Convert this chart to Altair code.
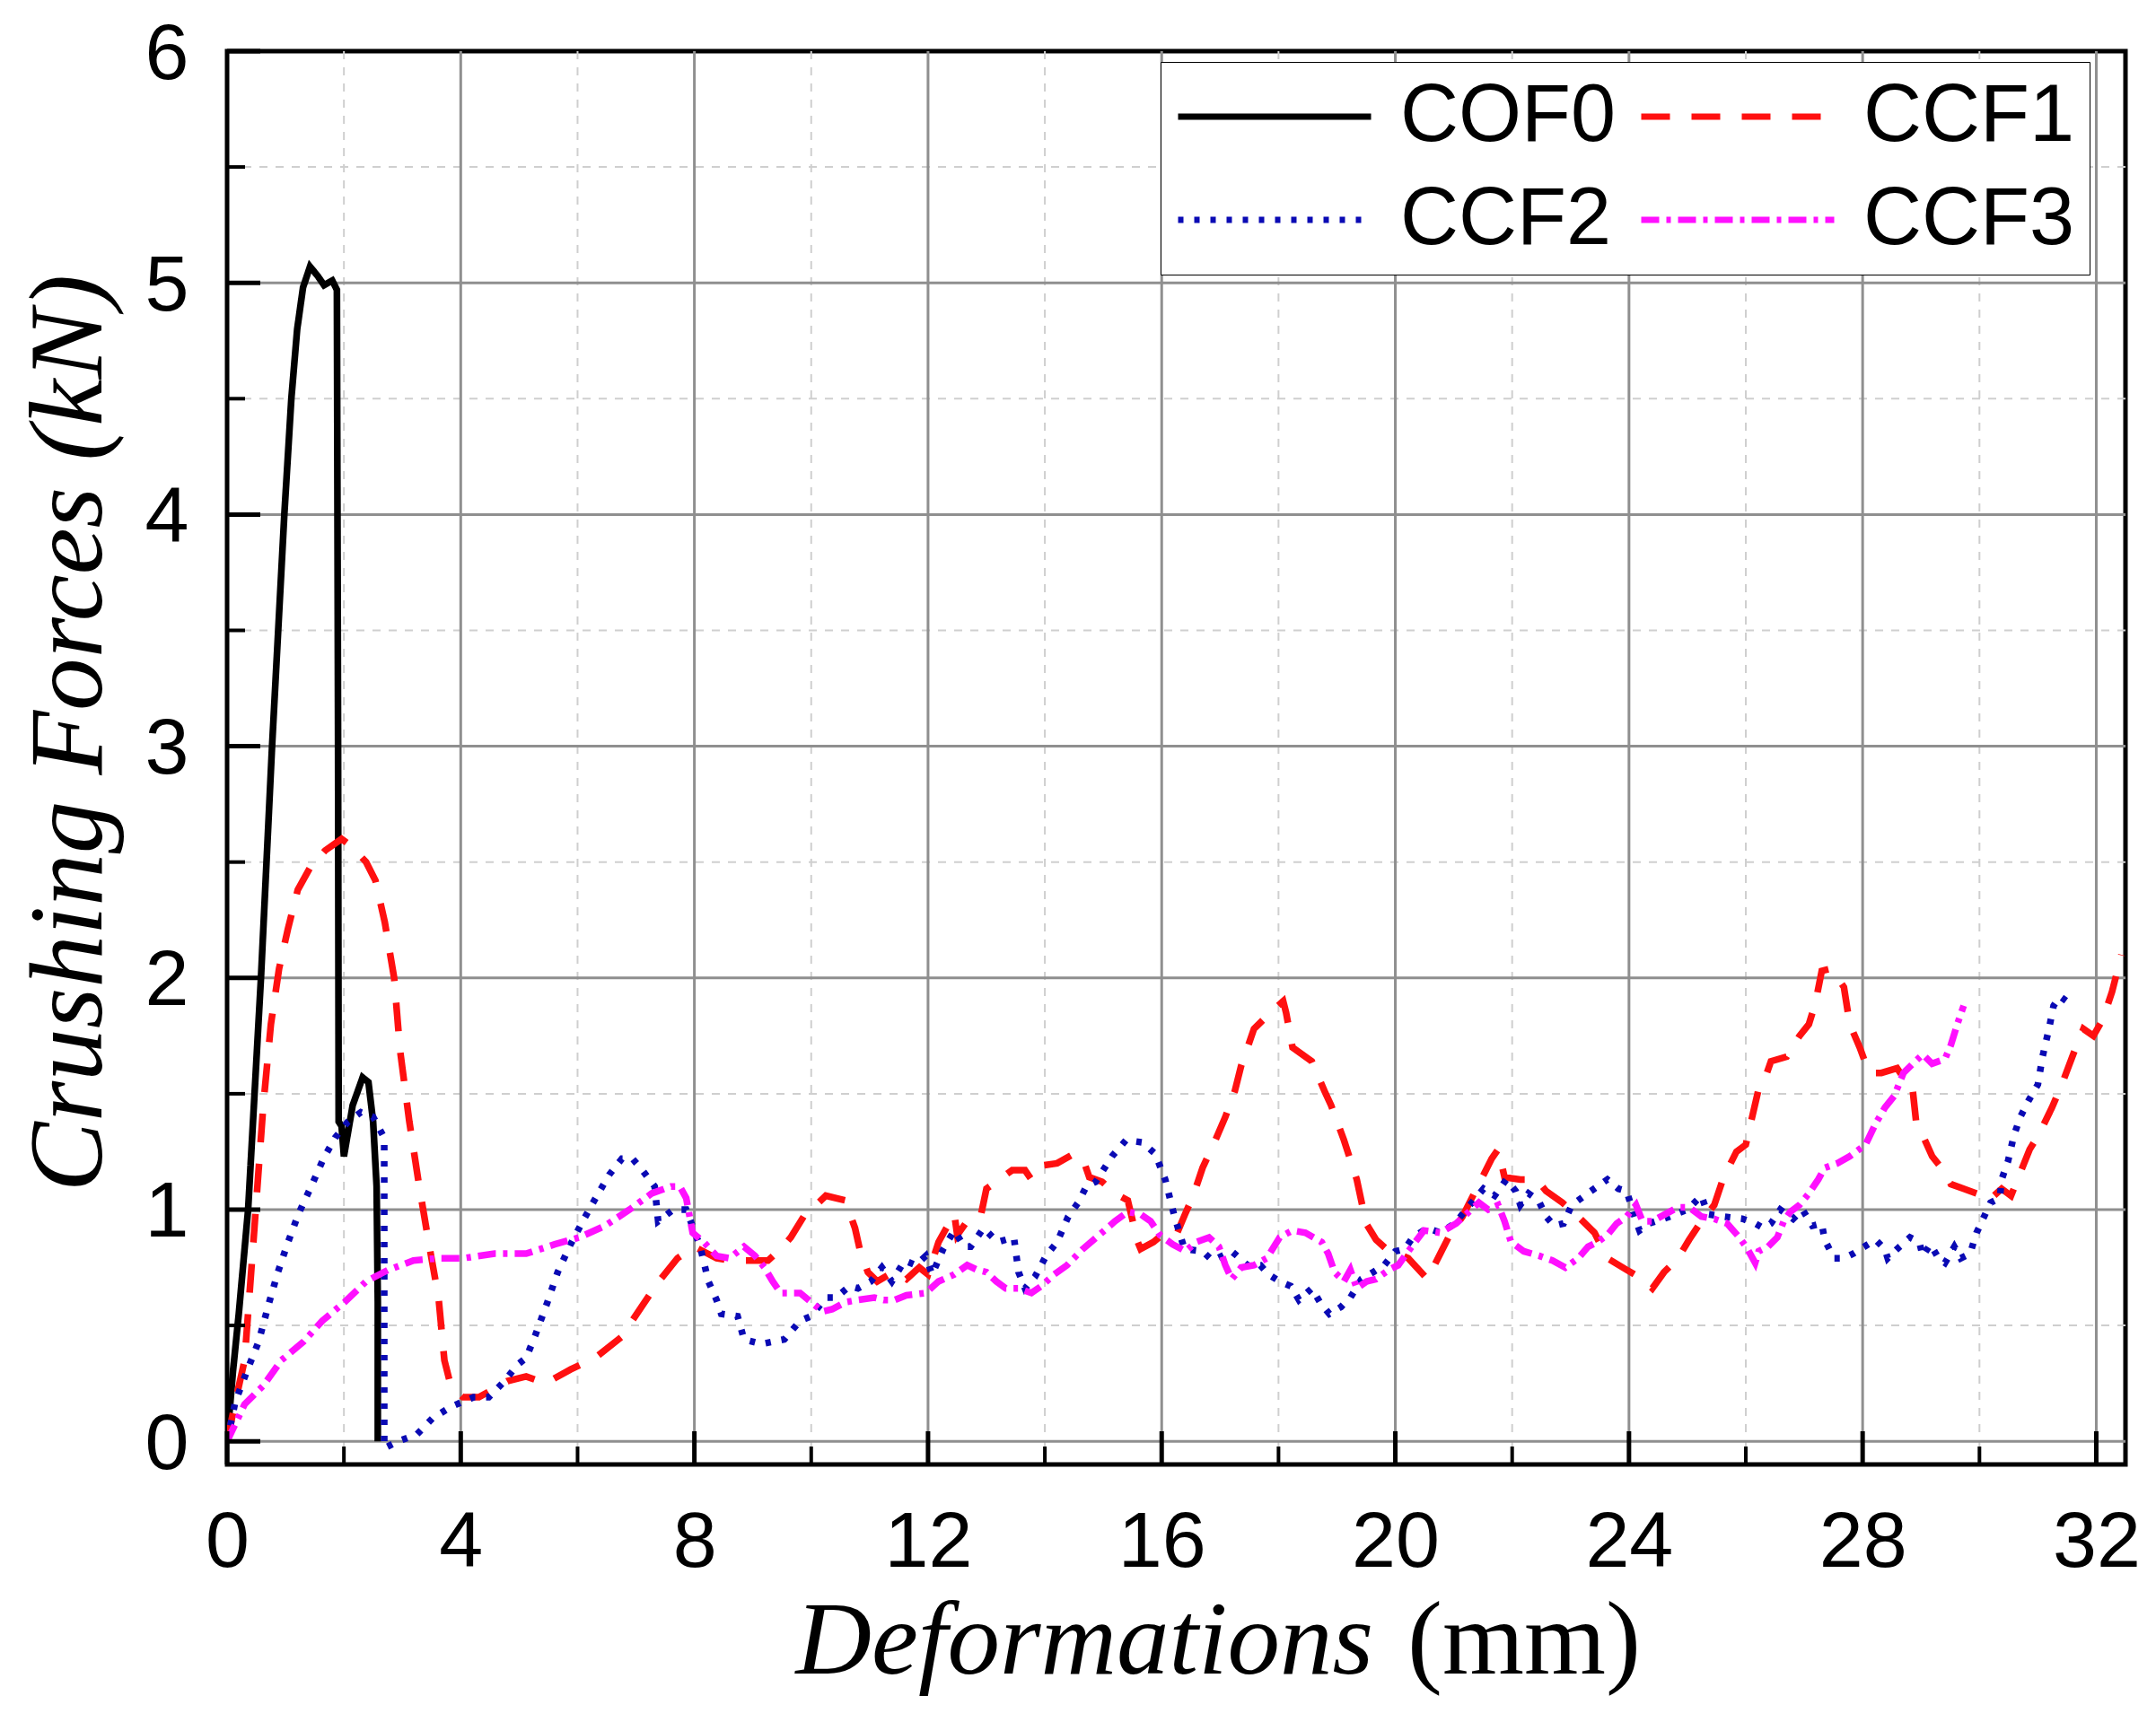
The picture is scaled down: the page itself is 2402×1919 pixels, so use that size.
import pandas as pd
import altair as alt

# curves: (deformation mm, force kN)
cof0 = [(0, 0), (0.1, 0.3), (0.2, 0.55), (0.36, 1.0), (0.58, 2.0), (0.77, 3.0), (0.98, 4.0),
        (1.1, 4.5), (1.2, 4.8), (1.3, 4.98), (1.42, 5.07), (1.55, 5.03), (1.66, 4.99), (1.8, 5.01),
        (1.88, 4.97), (1.9, 3.0), (1.91, 1.38), (1.96, 1.36), (2.0, 1.23), (2.15, 1.45), (2.32, 1.57),
        (2.42, 1.55), (2.5, 1.38), (2.56, 1.1), (2.58, 0.6), (2.58, 0.0)]

ccf1 = [(0, 0), (0.15, 0.18), (0.3, 0.35), (0.45, 0.86), (0.62, 1.45), (0.75, 1.8), (0.89, 2.04),
        (1.04, 2.21), (1.21, 2.38), (1.43, 2.48), (1.68, 2.55), (1.96, 2.6), (2.12, 2.57), (2.38, 2.5),
        (2.54, 2.42), (2.7, 2.24), (2.86, 2.0), (2.96, 1.69), (3.12, 1.38), (3.29, 1.1), (3.45, 0.86),
        (3.62, 0.62), (3.72, 0.35), (3.83, 0.24), (4.04, 0.19), (4.31, 0.19), (4.8, 0.26), (5.12, 0.28),
        (5.45, 0.25), (5.88, 0.31), (6.3, 0.36), (6.75, 0.45), (7.12, 0.59), (7.39, 0.69), (7.71, 0.79),
        (8.0, 0.84), (8.38, 0.79), (8.65, 0.78), (8.98, 0.78), (9.26, 0.78), (9.48, 0.83), (9.65, 0.88),
        (9.87, 0.97), (10.0, 1.0), (10.25, 1.06), (10.58, 1.04), (10.75, 0.92), (10.83, 0.83),
        (10.97, 0.73), (11.13, 0.69), (11.4, 0.73), (11.63, 0.7), (11.85, 0.75), (12.0, 0.72),
        (12.18, 0.86), (12.29, 0.91), (12.45, 0.98), (12.5, 0.89), (12.67, 0.95), (12.9, 0.97),
        (13.0, 1.09), (13.22, 1.13), (13.44, 1.17), (13.66, 1.17), (13.77, 1.13), (13.94, 1.19),
        (14.21, 1.2), (14.49, 1.24), (14.65, 1.22), (14.76, 1.14), (14.98, 1.12), (15.2, 1.07),
        (15.42, 1.04), (15.59, 0.86), (15.64, 0.83), (15.86, 0.86), (16.0, 0.89), (16.25, 0.89),
        (16.4, 0.98), (16.54, 1.06), (16.7, 1.18), (16.92, 1.3), (17.09, 1.4), (17.25, 1.51),
        (17.36, 1.62), (17.58, 1.78), (17.86, 1.85), (18.08, 1.9), (18.13, 1.85), (18.24, 1.7),
        (18.57, 1.64), (18.79, 1.51), (18.9, 1.45), (19.12, 1.3), (19.34, 1.13), (19.5, 0.94),
        (19.67, 0.87), (19.89, 0.82), (20.05, 0.81), (20.22, 0.79), (20.55, 0.7), (20.77, 0.81),
        (20.93, 0.89), (21.15, 0.97), (21.43, 1.11), (21.65, 1.22), (21.76, 1.26), (21.87, 1.14),
        (22.14, 1.13), (22.42, 1.13), (22.58, 1.08), (22.86, 1.03), (23.13, 0.97), (23.41, 0.9),
        (23.63, 0.79), (23.96, 0.74), (24.23, 0.7), (24.4, 0.66), (24.6, 0.73), (24.84, 0.79),
        (25.03, 0.87), (25.24, 0.95), (25.46, 1.02), (25.62, 1.14), (25.84, 1.25), (26.0, 1.28),
        (26.1, 1.39), (26.21, 1.51), (26.32, 1.56), (26.43, 1.64), (26.7, 1.66), (26.92, 1.75),
        (27.08, 1.8), (27.19, 1.89), (27.3, 2.03), (27.46, 2.04), (27.68, 1.96), (27.78, 1.8),
        (27.95, 1.7), (28.11, 1.59), (28.32, 1.59), (28.59, 1.61), (28.86, 1.51), (28.92, 1.37),
        (29.03, 1.32), (29.19, 1.23), (29.35, 1.18), (29.51, 1.11), (29.73, 1.09), (29.95, 1.07),
        (30.16, 1.04), (30.38, 1.09), (30.54, 1.06), (30.7, 1.16), (30.86, 1.26), (31.03, 1.33),
        (31.24, 1.44), (31.41, 1.54), (31.62, 1.68), (31.78, 1.78), (31.95, 1.75), (32.11, 1.82),
        (32.27, 1.94), (32.43, 2.1)]

ccf2 = [(0, 0), (0.14, 0.17), (0.35, 0.31), (0.54, 0.43), (0.71, 0.59), (0.87, 0.73), (1.03, 0.85),
        (1.22, 0.98), (1.44, 1.1), (1.65, 1.22), (1.85, 1.31), (2.07, 1.38), (2.29, 1.42), (2.5, 1.4),
        (2.69, 1.31), (2.69, 1.1), (2.69, 0.72), (2.69, 0.31), (2.69, -0.03), (2.93, 0.0), (3.25, 0.03),
        (3.52, 0.1), (3.84, 0.15), (4.22, 0.19), (4.48, 0.19), (4.75, 0.26), (4.97, 0.33), (5.12, 0.36),
        (5.28, 0.46), (5.47, 0.59), (5.66, 0.73), (5.88, 0.85), (6.09, 0.95), (6.31, 1.05), (6.54, 1.15),
        (6.76, 1.22), (6.94, 1.22), (7.11, 1.17), (7.32, 1.1), (7.38, 0.95), (7.64, 1.0), (7.86, 1.0),
        (8.1, 0.84), (8.24, 0.69), (8.38, 0.61), (8.46, 0.55), (8.74, 0.54), (8.85, 0.44), (9.15, 0.42),
        (9.54, 0.44), (9.81, 0.52), (10.0, 0.54), (10.25, 0.62), (10.42, 0.62), (10.66, 0.67),
        (10.8, 0.66), (11.02, 0.69), (11.21, 0.75), (11.38, 0.69), (11.6, 0.78), (11.79, 0.76),
        (11.96, 0.8), (12.07, 0.72), (12.26, 0.83), (12.45, 0.91), (12.62, 0.84), (12.73, 0.84),
        (12.95, 0.92), (13.19, 0.86), (13.47, 0.88), (13.55, 0.73), (13.66, 0.66), (13.83, 0.71),
        (14.02, 0.8), (14.21, 0.86), (14.4, 0.97), (14.57, 1.03), (14.71, 1.1), (14.87, 1.12),
        (15.15, 1.23), (15.39, 1.3), (15.67, 1.29), (15.89, 1.24), (16.06, 1.13), (16.22, 0.97),
        (16.39, 0.83), (16.7, 0.82), (16.87, 0.78), (17.2, 0.82), (17.47, 0.76), (17.69, 0.76),
        (17.83, 0.72), (18.02, 0.69), (18.21, 0.67), (18.35, 0.61), (18.57, 0.66), (18.71, 0.6),
        (18.87, 0.55), (19.07, 0.58), (19.23, 0.62), (19.42, 0.7), (19.62, 0.73), (19.81, 0.76),
        (20.0, 0.82), (20.16, 0.83), (20.3, 0.88), (20.55, 0.92), (20.77, 0.9), (21.02, 0.94),
        (21.21, 1.0), (21.51, 1.09), (21.7, 1.06), (21.9, 1.13), (22.06, 1.08), (22.14, 1.02),
        (22.28, 1.07), (22.45, 1.04), (22.58, 0.97), (22.72, 0.93), (22.88, 0.94), (23.02, 1.02),
        (23.24, 1.06), (23.46, 1.1), (23.63, 1.13), (23.82, 1.09), (23.96, 1.08), (24.12, 0.95),
        (24.18, 0.91), (24.34, 0.94), (24.7, 0.97), (25.0, 1.0), (25.24, 1.06), (25.35, 0.98),
        (25.62, 0.97), (25.95, 0.96), (26.16, 0.94), (26.3, 0.92), (26.43, 0.94), (26.59, 1.0),
        (26.81, 0.96), (26.97, 1.0), (27.14, 0.93), (27.3, 0.94), (27.35, 0.87), (27.51, 0.79),
        (27.68, 0.79), (27.84, 0.81), (28.03, 0.84), (28.22, 0.87), (28.38, 0.83), (28.43, 0.79),
        (28.59, 0.83), (28.81, 0.88), (28.97, 0.86), (29.03, 0.8), (29.16, 0.85), (29.3, 0.79),
        (29.41, 0.77), (29.57, 0.84), (29.68, 0.79), (29.84, 0.81), (29.95, 0.9), (30.08, 0.97),
        (30.19, 1.03), (30.35, 1.05), (30.38, 1.13), (30.49, 1.21), (30.59, 1.32), (30.7, 1.4),
        (30.84, 1.47), (31.0, 1.54), (31.08, 1.66), (31.19, 1.78), (31.27, 1.88), (31.38, 1.92),
        (31.49, 1.9)]

ccf3 = [(0, 0), (0.3, 0.16), (0.62, 0.24), (0.93, 0.35), (1.31, 0.43), (1.63, 0.52), (2.01, 0.6),
        (2.38, 0.69), (2.76, 0.74), (3.19, 0.78), (3.62, 0.79), (4.04, 0.79), (4.58, 0.81), (5.12, 0.81),
        (5.61, 0.85), (6.03, 0.88), (6.47, 0.93), (6.89, 1.0), (7.27, 1.07), (7.6, 1.1), (7.75, 1.1),
        (7.86, 1.05), (7.97, 0.9), (8.16, 0.86), (8.38, 0.8), (8.6, 0.79), (8.85, 0.84), (9.04, 0.8),
        (9.2, 0.75), (9.34, 0.69), (9.48, 0.64), (9.64, 0.64), (9.81, 0.64), (10.0, 0.6), (10.2, 0.56),
        (10.36, 0.57), (10.58, 0.6), (10.8, 0.61), (11.08, 0.62), (11.24, 0.61), (11.43, 0.61),
        (11.63, 0.63), (11.96, 0.64), (12.18, 0.69), (12.45, 0.72), (12.67, 0.76), (12.84, 0.74),
        (13.0, 0.73), (13.17, 0.69), (13.33, 0.66), (13.55, 0.66), (13.77, 0.64), (13.94, 0.67),
        (14.16, 0.72), (14.38, 0.76), (14.65, 0.83), (14.93, 0.89), (15.2, 0.95), (15.42, 0.99),
        (15.64, 0.98), (15.81, 0.95), (15.97, 0.89), (16.19, 0.85), (16.41, 0.82), (16.59, 0.86),
        (16.81, 0.88), (16.98, 0.84), (17.09, 0.76), (17.2, 0.7), (17.36, 0.75), (17.58, 0.76),
        (17.8, 0.79), (18.02, 0.88), (18.24, 0.91), (18.46, 0.9), (18.74, 0.86), (18.85, 0.81),
        (18.96, 0.73), (19.12, 0.69), (19.23, 0.74), (19.34, 0.66), (19.51, 0.69), (19.67, 0.7),
        (19.89, 0.74), (20.05, 0.76), (20.22, 0.82), (20.49, 0.91), (20.77, 0.9), (21.04, 0.94),
        (21.26, 0.99), (21.43, 1.03), (21.59, 1.0), (21.76, 1.02), (21.87, 0.95), (21.98, 0.86),
        (22.2, 0.82), (22.47, 0.8), (22.69, 0.78), (22.91, 0.75), (23.13, 0.79), (23.3, 0.84),
        (23.46, 0.86), (23.63, 0.89), (23.79, 0.94), (23.96, 0.97), (24.12, 1.02), (24.23, 0.95),
        (24.4, 0.95), (24.62, 0.98), (24.84, 1.01), (25.03, 1.01), (25.24, 0.97), (25.46, 0.96),
        (25.68, 0.94), (25.89, 0.88), (26.03, 0.83), (26.16, 0.77), (26.22, 0.82), (26.38, 0.84),
        (26.54, 0.88), (26.65, 0.95), (26.76, 0.99), (26.92, 1.02), (27.08, 1.07), (27.24, 1.13),
        (27.35, 1.18), (27.57, 1.2), (27.78, 1.23), (28.05, 1.28), (28.22, 1.37), (28.38, 1.44),
        (28.54, 1.49), (28.7, 1.59), (28.86, 1.63), (29.03, 1.67), (29.19, 1.63), (29.41, 1.65),
        (29.51, 1.71), (29.62, 1.8), (29.73, 1.88)]

# legend fills column by column, so this order gives COF0 CCF1 / CCF2 CCF3
series_names = ["COF0", "CCF2", "CCF1", "CCF3"]
series_colors = ["#000000", "#0a0ab4", "#ff1010", "#ff10ff"]
series_dashes = [[1, 0], [6, 12], [32, 24], [20, 8, 5, 8]]

x_major = [0, 4, 8, 12, 16, 20, 24, 28, 32]
x_minor = [2, 6, 10, 14, 18, 22, 26, 30]
y_major = [0, 1, 2, 3, 4, 5, 6]
y_minor = [0.5, 1.5, 2.5, 3.5, 4.5, 5.5]

W, H = 2115, 1575

rows = []
for name, pts in zip(["COF0", "CCF1", "CCF2", "CCF3"], [cof0, ccf1, ccf2, ccf3]):
    for i, (d, f) in enumerate(pts):
        rows.append({"series": name, "d": d, "f": f, "i": i})
df = pd.DataFrame(rows)

xs = alt.Scale(domain=[0, 32.5], nice=False, zero=False)
ys = alt.Scale(domain=[-0.1, 6], nice=False, zero=False)

x_axis = alt.Axis(values=x_major, format="d", ticks=False, domain=False, grid=False,
                  labelFont="Liberation Sans", labelFontSize=88, labelColor="black",
                  labelPadding=43, labelFlush=False, labelOverlap=False, title=None)
y_axis = alt.Axis(values=y_major, format="d", ticks=False, domain=False, grid=False,
                  labelFont="Liberation Sans", labelFontSize=88, labelColor="black",
                  labelPadding=43, labelOffset=4, labelFlush=False, labelOverlap=False, title=None)

leg = alt.Legend(title=None, orient="none", legendX=1040, legendY=12, columns=2,
                 symbolType="stroke", symbolSize=46225, symbolStrokeWidth=7, clipHeight=90,
                 labelFont="Liberation Sans", labelFontSize=90, labelColor="black", labelLimit=0,
                 labelOffset=29, columnPadding=24, rowPadding=25, padding=16,
                 strokeColor="black", fillColor="white")

lines = alt.Chart(df).mark_line(strokeWidth=7.5, clip=True).encode(
    x=alt.X("d:Q", scale=xs, axis=x_axis),
    y=alt.Y("f:Q", scale=ys, axis=y_axis),
    color=alt.Color("series:N", scale=alt.Scale(domain=series_names, range=series_colors), legend=leg),
    strokeDash=alt.StrokeDash("series:N", scale=alt.Scale(domain=series_names, range=series_dashes), legend=leg),
    order="i:Q",
)


def vrules(vals, y_top, y_bot, **style):
    return alt.Chart(pd.DataFrame({"v": vals})).mark_rule(**style).encode(
        x=alt.X("v:Q", scale=xs, axis=x_axis), y=alt.value(y_top), y2=alt.value(y_bot))


def hrules(vals, x_left, x_right, **style):
    return alt.Chart(pd.DataFrame({"v": vals})).mark_rule(**style).encode(
        y=alt.Y("v:Q", scale=ys, axis=y_axis), x=alt.value(x_left), x2=alt.value(x_right))


minor_grid = (vrules(x_minor, 0, H, color="#cfcfcf", strokeWidth=2, strokeDash=[9, 9])
              + hrules(y_minor, 0, W, color="#cfcfcf", strokeWidth=2, strokeDash=[9, 9]))
major_grid = (vrules(x_major[1:], 0, H, color="#8f8f8f", strokeWidth=3)
              + hrules(y_major[:-1], 0, W, color="#8f8f8f", strokeWidth=3))
ticks = (vrules(x_major, H, H - 37, color="black", strokeWidth=5)
         + vrules(x_minor, H, H - 20, color="black", strokeWidth=4)
         + hrules(y_major, 0, 37, color="black", strokeWidth=5)
         + hrules(y_minor, 0, 20, color="black", strokeWidth=4))

one = pd.DataFrame({"k": [0]})
title_font = dict(font="Liberation Serif", fontSize=117, color="black", baseline="alphabetic")
x_title_a = alt.Chart(one).mark_text(text="Deformations", align="right", fontStyle="italic",
                                     **title_font).encode(x=alt.value(1277), y=alt.value(1808))
x_title_b = alt.Chart(one).mark_text(text="(mm)", align="left", **title_font).encode(
    x=alt.value(1315), y=alt.value(1808))
y_title = alt.Chart(one).mark_text(text="Crushing Forces (kN)", align="center", angle=270,
                                   fontStyle="italic", **title_font).encode(
    x=alt.value(-140), y=alt.value(760))

chart = alt.layer(minor_grid, major_grid, lines, ticks, x_title_a, x_title_b, y_title).properties(
    width=W, height=H,
    autosize=alt.AutoSizeParams(type="none"),
    padding={"left": 245, "top": 49, "right": 26, "bottom": 279},
    background="white",
).configure_view(stroke="black", strokeWidth=5)

chart.save("out.html", embed_options={"renderer": "svg", "actions": False})
